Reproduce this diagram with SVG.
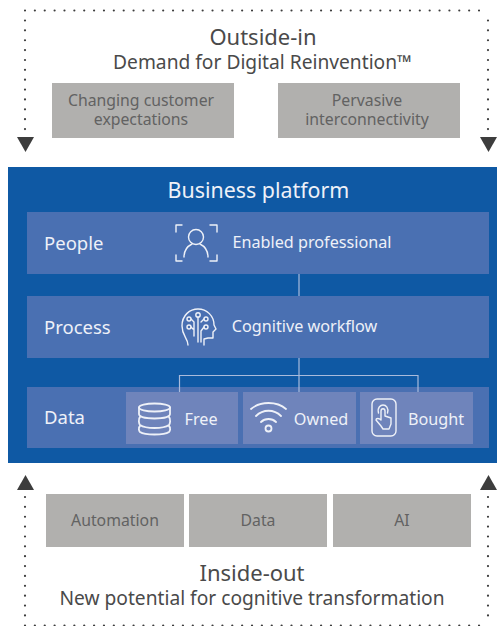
<svg xmlns="http://www.w3.org/2000/svg" width="497" height="626" viewBox="0 0 497 626">
<style>
text{font-family:"Noto Sans","Open Sans","Liberation Sans",sans-serif;text-anchor:middle}
.h{font-size:22px;fill:#4a4a4a}
.s{font-size:19.200px;fill:#4a4a4a}
.g{font-size:15.800px;fill:#626262}
.gb{fill:#b1b0ae}
.row{fill:#4a70b2}
.cell{fill:#6f84bb}
.t{fill:#eef1f8;font-size:16.200px}
.l{fill:#eef1f8;font-size:18.500px;text-anchor:start}
.dot{fill:none;stroke:#3d3d3d;stroke-width:2.200;stroke-linecap:round;stroke-dasharray:0 9.870}
.ar{fill:#3d3d3d}
.ic{fill:none;stroke:#eef1f8;stroke-width:1.400;stroke-linecap:round;stroke-linejoin:round}
.ib{fill:none;stroke:#eef1f8;stroke-width:1.800;stroke-linecap:round;stroke-linejoin:round}
.cn{fill:none;stroke:#a9bbdc;stroke-width:1.200}
</style>
<g id="outside-frame">
<path class="dot" d="M25 10.500H488"/>
<path class="dot" d="M25 20.500V132"/>
<path class="dot" d="M488 20.500V132"/>
<polygon class="ar" points="17,137 34,137 25.500,152"/>
<polygon class="ar" points="480,137 497,137 488.500,152"/>
<text class="h" x="263" y="44.500">Outside-in</text>
<text class="s" x="262.500" y="68.500">Demand for Digital Reinvention™</text>
</g>
<g id="inside-frame">
<path class="dot" d="M25 497V616"/>
<path class="dot" d="M488 497V616"/>
<path class="dot" d="M25 625.500H488"/>
<polygon class="ar" points="17,490 34,490 25.500,475"/>
<polygon class="ar" points="480,490 497,490 488.500,475"/>
<text class="h" x="252" y="580.500">Inside-out</text>
<text class="s" x="252" y="604.500">New potential for cognitive transformation</text>
</g>
<g id="changing"><rect class="gb" x="52" y="83" width="182" height="55"/><text class="g" x="141" y="105.500">Changing customer</text><text class="g" x="141" y="125">expectations</text></g>
<g id="pervasive"><rect class="gb" x="278" y="83" width="182" height="55"/><text class="g" x="367" y="105.500">Pervasive</text><text class="g" x="367" y="125">interconnectivity</text></g>
<g id="automation"><rect class="gb" x="46" y="494" width="138" height="53"/><text class="g" x="115" y="526">Automation</text></g>
<g id="data-box"><rect class="gb" x="189" y="494" width="138" height="53"/><text class="g" x="258" y="526">Data</text></g>
<g id="ai"><rect class="gb" x="333" y="494" width="138" height="53"/><text class="g" x="402" y="526">AI</text></g>
<g id="platform"><rect x="8" y="167" width="489" height="296" fill="#0f59a4"/><text x="258.500" y="197.500" font-size="21.400" fill="#eef1f8">Business platform</text></g>
<g id="people"><rect class="row" x="27" y="212" width="462" height="62"/><text class="l" x="44" y="250">People</text>
<path class="ic" d="M182 225H176V232M210 225H217V232M176 255V261H182M217 255V261H210"/>
<circle class="ic" cx="196" cy="237" r="7.500"/>
<path class="ic" d="M184 257C184 250 188 246 192 244M208 257C208 250 204 246 200 244"/>
<text class="t" x="312" y="248">Enabled professional</text></g>
<g id="process"><rect class="row" x="27" y="296" width="462" height="62"/><text class="l" x="44" y="334">Process</text>
<path class="ic" d="M188 345C188 338 182 336 182 326C182 315 190 309 198 309C207 309 214 316 214 325L216 329L213 332V338H208L204 339V345"/>
<circle class="ic" cx="198" cy="315" r="2.200"/><circle class="ic" cx="189" cy="319" r="2"/><circle class="ic" cx="189" cy="327" r="2"/><circle class="ic" cx="206" cy="319" r="2"/><circle class="ic" cx="206" cy="327" r="2"/>
<path class="ic" d="M198 317V342M191 319L194 322V336M191 327L193 329M204 327L201 331V342M204 319L201 322"/>
<text class="t" x="304.500" y="332">Cognitive workflow</text></g>
<g id="data"><rect class="row" x="27" y="387" width="462" height="61"/><text class="l" x="44" y="424">Data</text></g>
<g id="free"><rect class="cell" x="126" y="392" width="112" height="52"/>
<ellipse class="ib" cx="154.500" cy="407.500" rx="15.500" ry="4"/>
<path class="ib" d="M139 407.500V414C139 417 146 418.500 154.500 418.500S170 417 170 414V407.500M140 417C138 419 139 424 140 425C143 427 148 428 154.500 428S166 427 169 425C170 424 171 419 169 417M140 426C138 428 139 431 140 432C143 434 148 434.500 154.500 434.500S166 434 169 432C170 431 171 428 169 426"/>
<text class="t" x="201" y="425">Free</text></g>
<g id="owned"><rect class="cell" x="243" y="392" width="113" height="52"/>
<path class="ib" d="M251 409C260 401 277 401 286 409M256 416C263 409 274 409 281 416M261 422C265 418 272 418 276 422"/>
<circle class="ib" cx="268.500" cy="428.500" r="3"/>
<text class="t" x="321" y="425">Owned</text></g>
<g id="bought"><rect class="cell" x="360" y="392" width="113" height="52"/>
<rect class="ic" x="372" y="399" width="24" height="37" rx="5"/>
<path class="ic" d="M381 426L376 420C376 418 379 418 381 420V411C381 408 385 408 385 411V416L391 418V424L389 429H383Z"/>
<path class="ic" d="M378.500 413C377 407 381 405 383 405C386 405 389 408 387.500 413"/>
<text class="t" x="436" y="425">Bought</text></g>
<g id="connectors">
<path class="cn" d="M299 274V296M299 358V392M179.500 392V375.500H418V392"/>
</g>
</svg>
